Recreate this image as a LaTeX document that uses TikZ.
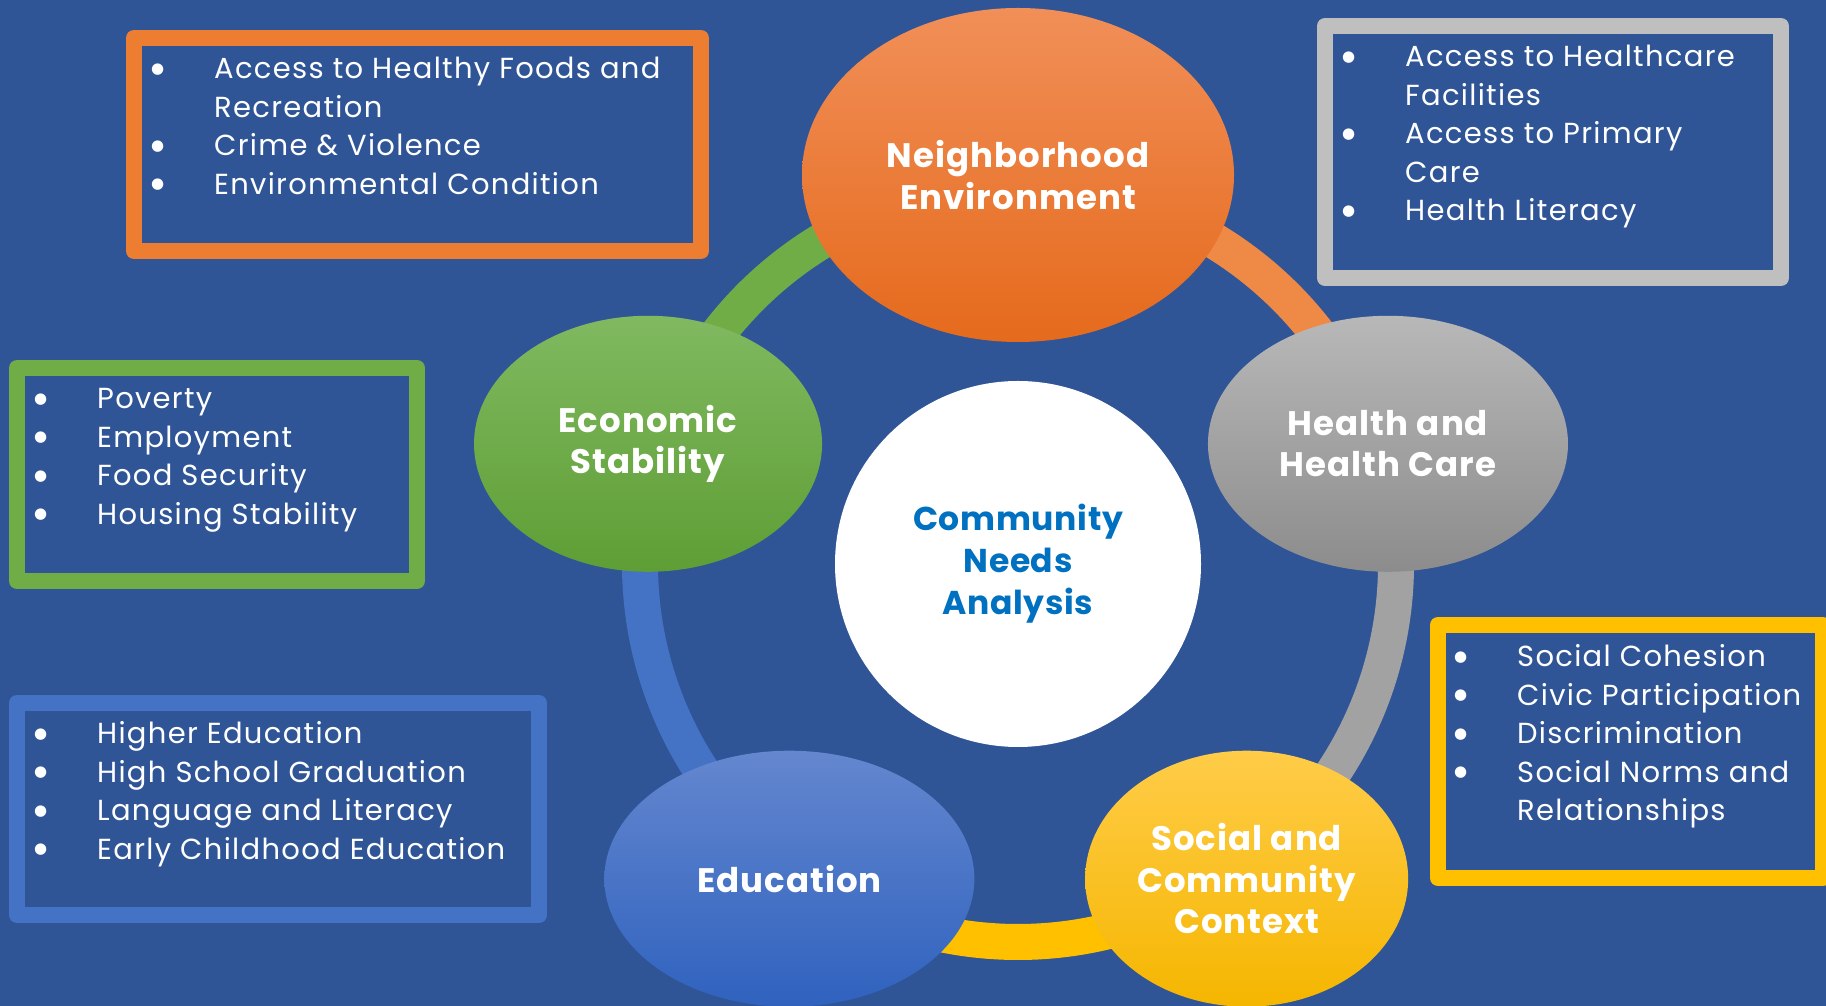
\documentclass[tikz,border=0pt]{standalone}
\usepackage{fontspec}
\setmainfont{Poppins}
\newfontfamily\symfont{DejaVu Sans}
\usetikzlibrary{shapes.geometric}
\definecolor{bg}{RGB}{47,85,151}
\definecolor{corange}{RGB}{237,125,49}
\definecolor{cgray}{RGB}{191,191,191}
\definecolor{cgreen}{RGB}{112,173,71}
\definecolor{cblue}{RGB}{68,114,196}
\definecolor{cyellow}{RGB}{255,192,0}
\definecolor{cnavy}{RGB}{0,112,192}
\tikzset{
  ringline/.style={line width=36pt},
  frame/.style={line width=16pt, line join=round},
  bubble/.style={ellipse, inner sep=0pt, text=white, align=center,
    font=\fontsize{34}{41.5}\selectfont\bfseries\addfontfeatures{LetterSpace=3}},
  boxtext/.style={anchor=base west, inner sep=0pt, text=white,
    font=\fontsize{29}{38.5}\selectfont\addfontfeatures{LetterSpace=4.5}}
}
\newcommand{\bu}{\raisebox{5.5pt}{\fontsize{15}{15}\symfont ●}}
\newcommand{\bl}[1]{\begin{tabular}[t]{@{}p{63pt}@{}l@{}}#1\end{tabular}}
\begin{document}
\begin{tikzpicture}[x=1pt,y=1pt]
\fill[bg] (0,0) rectangle (1826,1006);
\useasboundingbox (0,0) rectangle (1826,1006);
\coordinate (C) at (1018,442);
% ring
\draw[ringline, draw=cgreen] ([shift={(162:378pt)}]C) arc[start angle=162,end angle=90,radius=378pt];
\draw[ringline, draw=corange!90!white] ([shift={(90:378pt)}]C) arc[start angle=90,end angle=18,radius=378pt];
\draw[ringline, draw=cgray!85!black] ([shift={(18:378pt)}]C) arc[start angle=18,end angle=-54,radius=378pt];
\draw[ringline, draw=cyellow] ([shift={(-54:378pt)}]C) arc[start angle=-54,end angle=-126,radius=378pt];
\draw[ringline, draw=cblue] ([shift={(-126:378pt)}]C) arc[start angle=-126,end angle=-198,radius=378pt];
% centre
\node[circle, fill=white, minimum size=366pt, inner sep=0pt, text=cnavy, align=center,
  font=\fontsize{33}{42}\selectfont\bfseries\addfontfeatures{LetterSpace=2}] (cna) at (C) {Community\\Needs\\Analysis};
% bubbles
\node[bubble, minimum width=432pt, minimum height=334pt,
  top color={rgb,255:red,241;green,143;blue,88}, bottom color={rgb,255:red,229;green,106;blue,28}]
  (ne) at ([shift={(90:389pt)}]C) {Neighborhood\\Environment};
\node[bubble, minimum width=360pt, minimum height=256pt,
  top color={rgb,255:red,184;green,184;blue,184}, bottom color={rgb,255:red,140;green,140;blue,140}]
  (hh) at ([shift={(18:389pt)}]C) {Health and\\Health Care};
\node[bubble, minimum width=323pt, minimum height=256pt,
  top color={rgb,255:red,255;green,204;blue,72}, bottom color={rgb,255:red,245;green,182;blue,0}]
  (sc) at ([shift={(-54:389pt)}]C) {Social and\\Community\\Context};
\node[bubble, minimum width=370pt, minimum height=256pt,
  top color={rgb,255:red,100;green,135;blue,207}, bottom color={rgb,255:red,47;green,98;blue,190}]
  (ed) at ([shift={(-126:389pt)}]C) {Education};
\node[bubble, minimum width=348pt, minimum height=256pt,
  top color={rgb,255:red,128;green,185;blue,96}, bottom color={rgb,255:red,94;green,158;blue,53}]
  (es) at ([shift={(162:389pt)}]C) {Economic\\Stability};
% frames
\draw[frame, draw=corange] (134,968) rectangle (701,755);
\draw[frame, draw=cgray] (1325,980) rectangle (1781,728);
\draw[frame, draw=cgreen] (17,638) rectangle (417,425);
\draw[frame, draw=cblue] (17,303) rectangle (539,91);
\draw[frame, draw=cyellow] (1438,381) rectangle (1823,128);
% lists
\node[boxtext] (lne) at (151,927) {\bl{\bu & Access to Healthy Foods and\\ & Recreation\\ \bu & Crime \& Violence\\ \bu & Environmental Condition}};
\node[boxtext] (lhh) at (1342,939) {\bl{\bu & Access to Healthcare\\ & Facilities\\ \bu & Access to Primary\\ & Care\\ \bu & Health Literacy}};
\node[boxtext] (les) at (34,597) {\bl{\bu & Poverty\\ \bu & Employment\\ \bu & Food Security\\ \bu & Housing Stability}};
\node[boxtext] (led) at (34,262) {\bl{\bu & Higher Education\\ \bu & High School Graduation\\ \bu & Language and Literacy\\ \bu & Early Childhood Education}};
\node[boxtext] (lsc) at (1454,339) {\bl{\bu & Social Cohesion\\ \bu & Civic Participation\\ \bu & Discrimination\\ \bu & Social Norms and\\ & Relationships}};
\end{tikzpicture}
\end{document}
